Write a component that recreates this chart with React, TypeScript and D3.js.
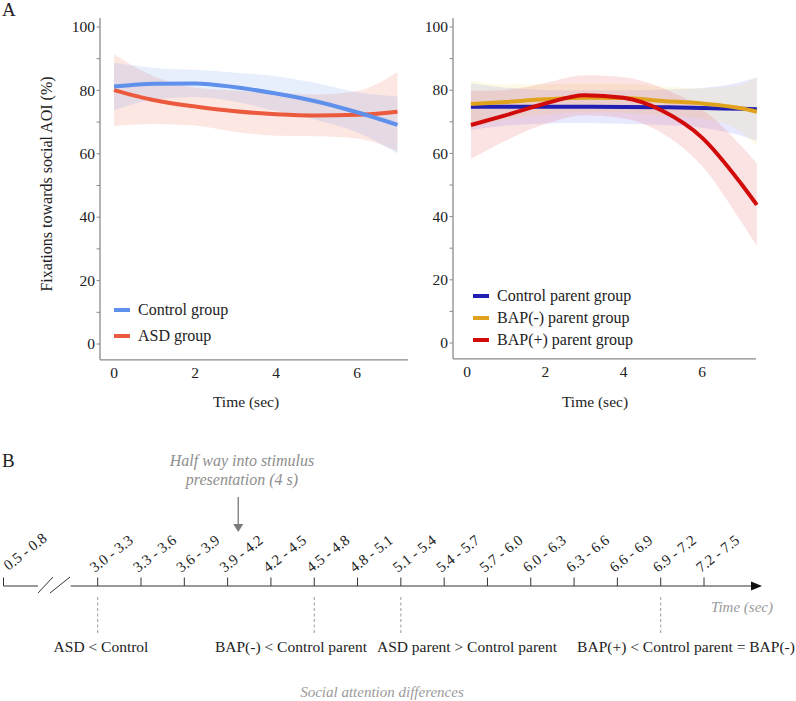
import React from 'react';
import * as d3 from 'd3';

const FONT = '"Liberation Serif", "Times New Roman", Times, serif';

// ---- Panel A, left: children ----
const childTimes = [0, 1, 2, 3, 4, 5, 6, 7];
const controlFit = [81.2, 82.1, 82.2, 81.0, 79.0, 76.5, 73.1, 69.1];
const controlSe = [7.5, 5.0, 4.3, 4.6, 5.5, 5.8, 6.3, 9.0];
const asdFit = [80.1, 76.9, 74.9, 73.4, 72.5, 72.1, 72.3, 73.3];
const asdSe = [11.3, 7.5, 6.0, 6.5, 6.8, 6.6, 7.5, 12.5];

// ---- Panel A, right: parents ----
const parentTimes = [0.1, 1, 2, 3, 4, 5, 6, 7, 7.4];
const ctrlParentFit = [74.8, 74.8, 74.8, 74.8, 74.7, 74.6, 74.4, 74.1, 74.0];
const ctrlParentSe = [7.4, 6.0, 5.3, 5.2, 5.3, 5.6, 6.3, 8.5, 10.0];
const bapNegFit = [75.6, 76.3, 77.1, 77.6, 77.5, 76.6, 75.8, 74.3, 73.2];
const bapNegSe = [7.5, 5.5, 4.8, 4.6, 4.6, 4.6, 4.8, 7.5, 11.0];
const bapPosFit = [69.0, 72.1, 75.8, 78.4, 77.6, 73.4, 65.0, 50.4, 43.7];
const bapPosSe = [10.8, 8.0, 6.5, 6.3, 6.5, 7.2, 9.0, 12.0, 13.0];

const yTicks = [0, 10, 20, 30, 40, 50, 60, 70, 80, 90, 100];
const xTicks = [0, 2, 4, 6];

// ---- Panel B: timeline ----
const intervalStarts = [3.0, 3.3, 3.6, 3.9, 4.2, 4.5, 4.8, 5.1, 5.4, 5.7, 6.0, 6.3, 6.6, 6.9, 7.2];
const intervalLabels = ['3.0 - 3.3', '3.3 - 3.6', '3.6 - 3.9', '3.9 - 4.2', '4.2 - 4.5', '4.5 - 4.8', '4.8 - 5.1',
  '5.1 - 5.4', '5.4 - 5.7', '5.7 - 6.0', '6.0 - 6.3', '6.3 - 6.6', '6.6 - 6.9', '6.9 - 7.2', '7.2 - 7.5'];
const earlyLabel = '0.5 - 0.8';
const diffTimes = [3.0, 4.5, 5.1, 6.9];
const diffLabels = ['ASD < Control', 'BAP(-) < Control parent', 'ASD parent > Control parent', 'BAP(+) < Control parent = BAP(-)'];
const diffLabelX = [101, 291, 467, 686];

type Series = { name: string; color: string; fill: string; fit: number[]; se: number[] };

const childSeries: Series[] = [
  { name: 'ASD group', color: '#ec5a3e', fill: '#f26a50', fit: asdFit, se: asdSe },
  { name: 'Control group', color: '#5f90ec', fill: '#6b98ee', fit: controlFit, se: controlSe },
];
const childLegend = ['Control group', 'ASD group'];

const parentSeries: Series[] = [
  { name: 'Control parent group', color: '#2020b2', fill: '#7070ff', fit: ctrlParentFit, se: ctrlParentSe },
  { name: 'BAP(-) parent group', color: '#e0a21c', fill: '#f2e060', fit: bapNegFit, se: bapNegSe },
  { name: 'BAP(+) parent group', color: '#d10a0a', fill: '#ee5050', fit: bapPosFit, se: bapPosSe },
];
const parentLegend = ['Control parent group', 'BAP(-) parent group', 'BAP(+) parent group'];

const AXIS = '#8a8a8a';
const TXT = { fontFamily: FONT };

function Panel(props: {
  times: number[];
  series: Series[];
  legend: string[];
  axisX: number;
  axisRight: number;
  xRange: [number, number];
  yRange: [number, number];
  legendX: number;
  legendY: number;
  legendStep: number;
  titleX: number;
  yTitle?: string;
}) {
  const { times, series, legend, axisX, axisRight, xRange, yRange, legendX, legendY, legendStep, titleX, yTitle } = props;
  const x = d3.scaleLinear().domain([0, 6]).range(xRange);
  const y = d3.scaleLinear().domain([0, 100]).range(yRange);
  const axisBottom = y(-5);
  const axisTop = y(102.8);

  const line = (fit: number[]) =>
    d3.line<number>().x((_, i) => x(times[i])).y((d) => y(d)).curve(d3.curveMonotoneX)(fit) || '';
  const area = (fit: number[], se: number[]) =>
    d3.area<number>()
      .x((_, i) => x(times[i]))
      .y0((d, i) => y(d - se[i]))
      .y1((d, i) => y(d + se[i]))
      .curve(d3.curveMonotoneX)(fit) || '';

  return (
    <g>
      {series.map((s) => (
        <path key={'b' + s.name} d={area(s.fit, s.se)} fill={s.fill} fillOpacity={0.16} stroke="none" />
      ))}
      {series.map((s) => (
        <path key={'l' + s.name} d={line(s.fit)} fill="none" stroke={s.color} strokeWidth={4} />
      ))}
      <line x1={axisX} x2={axisX} y1={axisTop} y2={axisBottom} stroke={AXIS} strokeWidth={1.3} />
      <line x1={axisX} x2={axisRight} y1={axisBottom} y2={axisBottom} stroke={AXIS} strokeWidth={1.3} />
      {yTicks.map((t) => (
        <g key={t}>
          <line x1={axisX - 3.5} x2={axisX} y1={y(t)} y2={y(t)} stroke={AXIS} strokeWidth={1} />
          {t % 20 === 0 && (
            <text x={axisX - 5} y={y(t)} dy="0.34em" textAnchor="end" fontSize={15.5} fill="#222" style={TXT}>
              {t}
            </text>
          )}
        </g>
      ))}
      {xTicks.map((t) => (
        <text key={t} x={x(t)} y={axisBottom + 18} textAnchor="middle" fontSize={15.5} fill="#222" style={TXT}>
          {t}
        </text>
      ))}
      <text x={titleX} y={407} textAnchor="middle" fontSize={15.5} fill="#222" style={TXT}>
        Time (sec)
      </text>
      {yTitle && (
        <text transform={`translate(52, 184) rotate(-90)`} textAnchor="middle" fontSize={16} fill="#222" style={TXT}>
          {yTitle}
        </text>
      )}
      {legend.map((name, i) => {
        const s = series.find((d) => d.name === name)!;
        const ly = legendY + i * legendStep;
        return (
          <g key={name}>
            <line x1={legendX} x2={legendX + 16} y1={ly} y2={ly} stroke={s.color} strokeWidth={4} />
            <text x={legendX + 24} y={ly} dy="0.33em" fontSize={16} fill="#222" style={TXT}>
              {name}
            </text>
          </g>
        );
      })}
    </g>
  );
}

function Timeline() {
  const xT = d3.scaleLinear().domain([3.0, 7.2]).range([97.7, 704]);
  const lineY = 586;
  const mainStart = xT(3.0) - 27;
  const arrowTip = xT(7.2) + 58;
  const breakX = 3.5;
  const halfX = xT(3.9) + 10.6;

  return (
    <g style={TXT}>
      <text x={2} y={467} fontSize={19} fill="#222" style={TXT}>B</text>
      {/* half-way annotation */}
      <text x={242} y={466} textAnchor="middle" fontSize={16} fontStyle="italic" fill="#8e8e8e" style={TXT}>
        Half way into stimulus
      </text>
      <text x={242} y={485} textAnchor="middle" fontSize={16} fontStyle="italic" fill="#8e8e8e" style={TXT}>
        presentation (4 s)
      </text>
      <line x1={halfX} x2={halfX} y1={497} y2={525} stroke="#7a7a7a" strokeWidth={1.3} />
      <path d={`M${halfX - 5},${524} L${halfX + 5},${524} L${halfX},${532} Z`} fill="#7a7a7a" />

      {/* broken early segment */}
      <line x1={breakX} x2={breakX} y1={lineY - 8.5} y2={lineY} stroke="#333" strokeWidth={1} />
      <line x1={breakX} x2={38} y1={lineY} y2={lineY} stroke="#333" strokeWidth={1} />
      <line x1={38} x2={53} y1={593} y2={577} stroke="#333" strokeWidth={1} />
      <line x1={50} x2={70} y1={593} y2={577} stroke="#333" strokeWidth={1} />
      <text x={breakX + 5} y={571} fontSize={15} fill="#222" style={TXT} transform={`rotate(-38, ${breakX + 5}, 571)`}>
        {earlyLabel}
      </text>

      {/* main axis */}
      <line x1={mainStart} x2={arrowTip - 8} y1={lineY} y2={lineY} stroke="#333" strokeWidth={1} />
      <path d={`M${arrowTip - 11},${lineY - 4.5} L${arrowTip},${lineY} L${arrowTip - 11},${lineY + 4.5} Z`} fill="#111" />
      {intervalStarts.map((t, i) => (
        <g key={t}>
          <line x1={xT(t)} x2={xT(t)} y1={lineY - 8.5} y2={lineY} stroke="#333" strokeWidth={1} />
          <text x={xT(t) - 3} y={573} fontSize={15} fill="#222" style={TXT} transform={`rotate(-38, ${xT(t) - 3}, 573)`}>
            {intervalLabels[i]}
          </text>
        </g>
      ))}
      <text x={773} y={612} textAnchor="end" fontSize={15} fontStyle="italic" fill="#9a9a9a" style={TXT}>
        Time (sec)
      </text>

      {/* differences */}
      {diffTimes.map((t, i) => (
        <g key={t}>
          <line x1={xT(t)} x2={xT(t)} y1={597} y2={633} stroke="#9a9a9a" strokeWidth={1} strokeDasharray="3,2.5" />
          <text x={diffLabelX[i]} y={652} textAnchor="middle" fontSize={15.5} fill="#222" style={TXT}>
            {diffLabels[i]}
          </text>
        </g>
      ))}
      <text x={382} y={697} textAnchor="middle" fontSize={15} fontStyle="italic" fill="#9a9a9a" style={TXT}>
        Social attention differences
      </text>
    </g>
  );
}

export default function App() {
  return (
    <svg
      width={796}
      height={701}
      style={{ position: 'absolute', left: 0, top: 0, background: '#fff', fontFamily: FONT }}
    >
      <text x={2} y={16} fontSize={19} fill="#222" style={TXT}>A</text>
      <Panel
        times={childTimes}
        series={childSeries}
        legend={childLegend}
        axisX={100}
        axisRight={408}
        xRange={[114, 357]}
        yRange={[344, 27]}
        legendX={114}
        legendY={310}
        legendStep={26}
        titleX={246}
        yTitle="Fixations towards social AOI (%)"
      />
      <Panel
        times={parentTimes}
        series={parentSeries}
        legend={parentLegend}
        axisX={453}
        axisRight={756}
        xRange={[467, 702]}
        yRange={[343, 27]}
        legendX={473}
        legendY={296}
        legendStep={22}
        titleX={595}
      />
      <Timeline />
    </svg>
  );
}
